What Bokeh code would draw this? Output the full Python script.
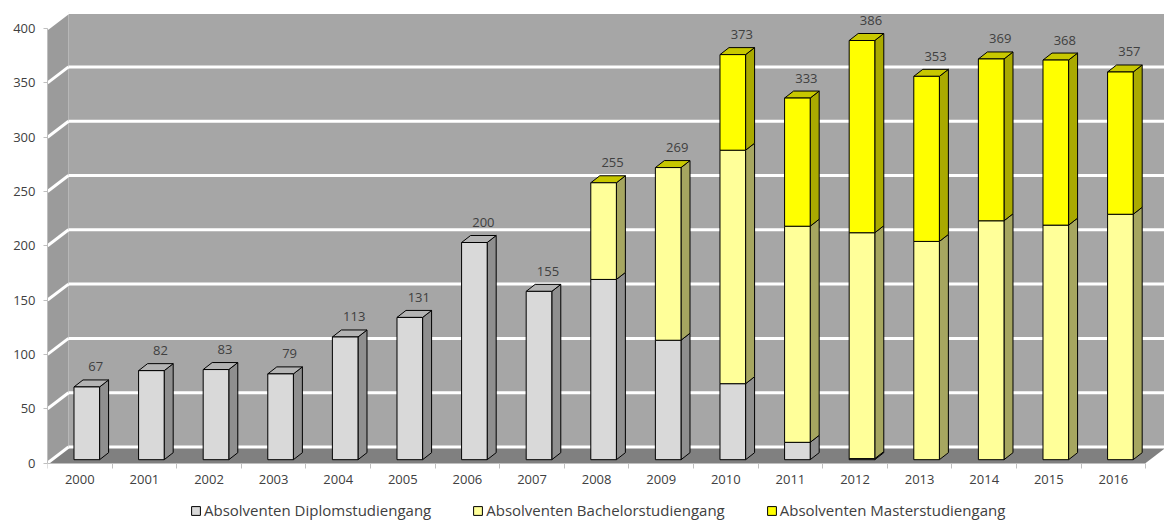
import numpy as np
from bokeh.plotting import figure
from bokeh.models import (ColumnDataSource, Range1d, FixedTicker, LinearAxis,
                          Legend, LegendItem, BasicTickFormatter)
from bokeh.embed import file_html
from bokeh.resources import INLINE
from bokeh.core.properties import value

# ---------------- data ----------------
years = list(range(2000, 2017))
diplom = [67, 82, 83, 79, 113, 131, 200, 155, 166, 110, 70, 16, 1, 0, 0, 0, 0]
bachelor = [0, 0, 0, 0, 0, 0, 0, 0, 89, 159, 215, 199, 208, 201, 220, 216, 226]
master = [0, 0, 0, 0, 0, 0, 0, 0, 0, 0, 88, 118, 177, 152, 149, 152, 131]
series_names = ["Absolventen Diplomstudiengang",
                "Absolventen Bachelorstudiengang",
                "Absolventen Masterstudiengang"]
y_ticks = [0, 50, 100, 150, 200, 250, 300, 350, 400]

# ---------------- geometry / style ----------------
PX_X = 64.6      # pixels per category
PX_Y = 1.086     # pixels per value unit
W, H = 1164, 520
LEFT = 47
ZERO_PX = 462.5  # pixel row of value 0 (front plane)
WALL_DX = 21 / PX_X
WALL_DY = 16 / PX_Y
BAR_OFF = 0.41
BAR_W = 25.6 / PX_X
BAR_DX = 9 / PX_X
BAR_DY = 7 / PX_Y
BAR_BASE = 3.3 / PX_Y
X0 = years[0] - 0.5
X_END = years[-1] + 0.5
YMAX = y_ticks[-1]

face_colors = [
    # front, side, top
    ("#d9d9d9", "#8f8f8f", "#b4b4b4"),
    ("#ffff99", "#a6a660", "#c8c800"),
    ("#ffff00", "#aaaa00", "#c8c800"),
]
FONT = "Open Sans"
TXT = "#404040"

p = figure(width=W, height=H,
           x_range=Range1d(X0, X0 + (W - LEFT) / PX_X),
           y_range=Range1d(-(H - ZERO_PX) / PX_Y, ZERO_PX / PX_Y),
           output_backend="svg", toolbar_location=None,
           x_axis_type=None, y_axis_type=None,
           min_border_left=LEFT, min_border_right=0, min_border_top=0,
           min_border_bottom=0)
p.grid.visible = False
p.outline_line_color = None
p.background_fill_color = "white"
p.border_fill_color = "white"

# walls and floor
p.quad(left=X0 + WALL_DX, right=X_END + 1, bottom=WALL_DY, top=YMAX + WALL_DY,
       fill_color="#a6a6a6", line_color=None)
p.patch(x=[X0, X0 + WALL_DX, X0 + WALL_DX, X0], y=[0, WALL_DY, YMAX + WALL_DY, YMAX],
        fill_color="#9b9b9b", line_color=None)
p.patch(x=[X0, X_END, X_END + WALL_DX, X0 + WALL_DX], y=[0, 0, WALL_DY, WALL_DY],
        fill_color="#808080", line_color=None)

# gridlines on back wall and left wall
gx, gy = [], []
for v in y_ticks:
    gx.append([X0 + WALL_DX, X_END + 1]); gy.append([v + WALL_DY, v + WALL_DY])
    gx.append([X0, X0 + WALL_DX]); gy.append([v, v + WALL_DY])
p.multi_line(xs=gx, ys=gy, line_color="white", line_width=3)

# 3D stacked bars
stacks = [diplom, bachelor, master]
totals = [sum(s[i] for s in stacks) for i in range(len(years))]
front_renderers = []
for k, s in enumerate(stacks):
    lefts, rights, bottoms, tops = [], [], [], []
    side_x, side_y, top_x, top_y = [], [], [], []
    for i, yr in enumerate(years):
        if s[i] <= 0:
            continue
        below = sum(stacks[j][i] for j in range(k))
        y0 = BAR_BASE + below
        y1 = y0 + s[i]
        xl = yr - 0.5 + BAR_OFF
        xr = xl + BAR_W
        lefts.append(xl); rights.append(xr); bottoms.append(y0); tops.append(y1)
        side_x.append([xr, xr + BAR_DX, xr + BAR_DX, xr])
        side_y.append([y0, y0 + BAR_DY, y1 + BAR_DY, y1])
        if below + s[i] == totals[i]:
            top_x.append([xl, xl + BAR_DX, xr + BAR_DX, xr])
            top_y.append([y1, y1 + BAR_DY, y1 + BAR_DY, y1])
    front, side, top = face_colors[k]
    p.patches(xs=side_x, ys=side_y, fill_color=side, line_color="black", line_width=1)
    if top_x:
        p.patches(xs=top_x, ys=top_y, fill_color=top, line_color="black", line_width=1)
    r = p.quad(left=lefts, right=rights, bottom=bottoms, top=tops,
               fill_color=front, line_color="black", line_width=1)
    front_renderers.append(r)

# value labels
lab = ColumnDataSource(dict(
    x=[yr - 0.5 + BAR_OFF + BAR_W / 2 + 9 / PX_X for yr in years],
    y=[t + BAR_BASE + 20 / PX_Y for t in totals],
    t=[str(t) for t in totals]))
p.text(x="x", y="y", text="t", source=lab, text_align="center",
       text_baseline="middle", text_font=value(FONT), text_font_size="13px",
       text_color=TXT)

# axes
yaxis = LinearAxis(ticker=FixedTicker(ticks=y_ticks), bounds=(0, YMAX),
                   major_tick_out=4, major_tick_in=0, minor_tick_out=0, minor_tick_in=0,
                   axis_line_color="#bfbfbf", major_tick_line_color="#bfbfbf",
                   major_label_text_font=FONT, major_label_text_font_size="13px",
                   major_label_text_color=TXT, major_label_standoff=8)
p.add_layout(yaxis, "left")

xaxis = LinearAxis(ticker=FixedTicker(ticks=years,
                                      minor_ticks=[y - 0.5 for y in years] + [X_END]),
                   formatter=BasicTickFormatter(use_scientific=False),
                   bounds=(X0, X_END), fixed_location=0,
                   major_tick_out=0, major_tick_in=0, minor_tick_out=5, minor_tick_in=0,
                   axis_line_color="#bfbfbf", minor_tick_line_color="#bfbfbf",
                   major_label_text_font=FONT, major_label_text_font_size="13px",
                   major_label_text_color=TXT, major_label_standoff=7)
p.add_layout(xaxis, "below")

legend = Legend(items=[LegendItem(label=n, renderers=[r])
                       for n, r in zip(series_names, front_renderers)],
                orientation="horizontal", location=(143, 0),
                label_text_font=FONT, label_text_font_size="15px",
                label_text_color=TXT, glyph_width=11, glyph_height=11,
                label_standoff=3, label_height=16, spacing=41, padding=0, margin=0,
                border_line_color=None, background_fill_alpha=0)
p.add_layout(legend, "center")

open("out.html", "w").write(file_html(p, INLINE))
